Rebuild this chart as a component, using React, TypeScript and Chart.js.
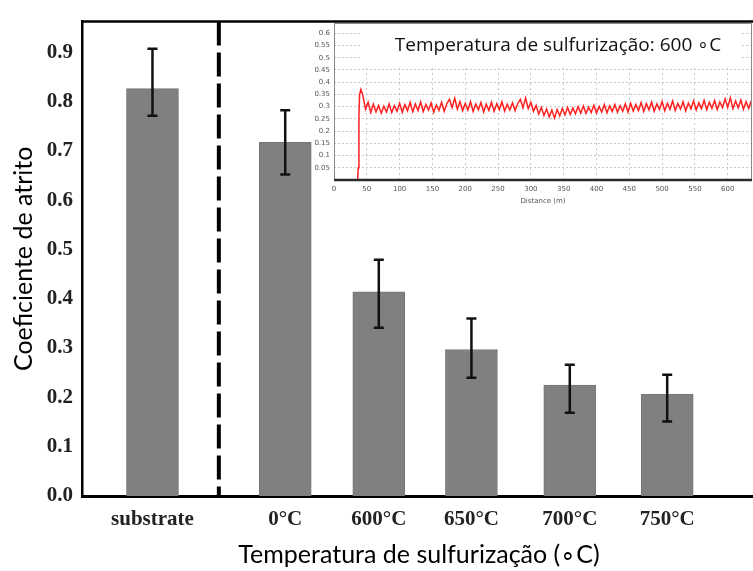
import { useEffect, useRef } from 'react';
import { Chart, registerables } from 'chart.js';

Chart.register(...registerables);

// ---------- main chart data ----------
const categories = ['substrate', '0°C', '600°C', '650°C', '700°C', '750°C'];
const categorySlots = [0, 1.39, 2.37, 3.34, 4.37, 5.39];
const frictionMean = [0.826, 0.717, 0.414, 0.297, 0.225, 0.206];
const errorUpper = [0.907, 0.782, 0.479, 0.36, 0.266, 0.246];
const errorLower = [0.771, 0.652, 0.341, 0.24, 0.169, 0.151];
const yTicks = [0, 0.1, 0.2, 0.3, 0.4, 0.5, 0.6, 0.7, 0.8, 0.9];
const yTitle = 'Coeficiente de atrito';
const xTitle = 'Temperatura de sulfurização (∘C)';

// ---------- inset data ----------
const insetTitle = 'Temperatura de sulfurização: 600 ∘C';
const insetXTitle = 'Distance (m)';
const insetRampDistance = [0, 36, 37, 38, 39, 41];
const insetRampFriction = [0, 0, 0.05, 0.26, 0.35, 0.37];
const insetSteadyStart = 44;
const insetSteadyStep = 4;
const insetSteadyFriction = [
  0.345, 0.29, 0.318, 0.276, 0.31, 0.279, 0.305, 0.273, 0.302, 0.278,
  0.311, 0.276, 0.304, 0.281, 0.314, 0.277, 0.308, 0.283, 0.317, 0.279,
  0.311, 0.284, 0.319, 0.28, 0.309, 0.286, 0.315, 0.277, 0.307, 0.284,
  0.318, 0.281, 0.313, 0.33, 0.296, 0.334, 0.29, 0.321, 0.283, 0.313,
  0.286, 0.32, 0.28, 0.311, 0.287, 0.317, 0.278, 0.31, 0.285, 0.318,
  0.281, 0.312, 0.288, 0.32, 0.282, 0.31, 0.286, 0.316, 0.283, 0.313,
  0.33, 0.295, 0.335, 0.292, 0.318, 0.281, 0.305, 0.27, 0.297, 0.264,
  0.291, 0.258, 0.286, 0.253, 0.288, 0.262, 0.293, 0.266, 0.297, 0.268,
  0.295, 0.271, 0.3, 0.273, 0.303, 0.272, 0.298, 0.276, 0.306, 0.274,
  0.301, 0.278, 0.308, 0.275, 0.303, 0.28, 0.309, 0.277, 0.304, 0.281,
  0.311, 0.278, 0.314, 0.282, 0.309, 0.284, 0.317, 0.28, 0.312, 0.287,
  0.319, 0.281, 0.311, 0.288, 0.321, 0.283, 0.314, 0.289, 0.323, 0.284,
  0.313, 0.29, 0.32, 0.282, 0.315, 0.291, 0.324, 0.286, 0.316, 0.292,
  0.326, 0.287, 0.318, 0.293, 0.325, 0.288, 0.319, 0.296, 0.332, 0.297,
  0.336, 0.292, 0.323, 0.295, 0.327, 0.289, 0.32, 0.293, 0.324,
];

const mainPlugin = {
  id: 'mainDecor',
  afterDatasetsDraw(chart: any) {
    const { ctx, scales } = chart;
    const xs = scales.x;
    const ys = scales.y;
    ctx.save();
    ctx.strokeStyle = '#111';
    ctx.lineWidth = 2.5;
    categorySlots.forEach((slot, i) => {
      const x = xs.getPixelForValue(slot);
      const yTop = ys.getPixelForValue(errorUpper[i]);
      const yBot = ys.getPixelForValue(errorLower[i]);
      ctx.beginPath();
      ctx.moveTo(x, yTop);
      ctx.lineTo(x, yBot);
      ctx.moveTo(x - 5, yTop);
      ctx.lineTo(x + 5, yTop);
      ctx.moveTo(x - 5, yBot);
      ctx.lineTo(x + 5, yBot);
      ctx.stroke();
    });
    ctx.restore();
  },
  afterDraw(chart: any) {
    const { ctx, chartArea, scales } = chart;
    ctx.save();
    ctx.strokeStyle = '#000';
    ctx.lineWidth = 2.5;
    ctx.beginPath();
    ctx.moveTo(chartArea.left - 1, chartArea.top);
    ctx.lineTo(chart.width, chartArea.top);
    ctx.stroke();
    const sx = scales.x.getPixelForValue((categorySlots[0] + categorySlots[1]) / 2);
    ctx.lineWidth = 4;
    ctx.setLineDash([24, 7]);
    ctx.beginPath();
    ctx.moveTo(sx, chartArea.top);
    ctx.lineTo(sx, chartArea.bottom);
    ctx.stroke();
    ctx.restore();
  },
};

const insetPlugin = {
  id: 'insetDecor',
  beforeDatasetsDraw(chart: any) {
    const { ctx, chartArea, scales } = chart;
    ctx.save();
    const boxTop = chartArea.top + 1;
    const boxBottom = scales.y.getPixelForValue(0.47);
    const boxLeft = chartArea.left + 28;
    const boxRight = chartArea.right - 10;
    ctx.fillStyle = '#fff';
    ctx.fillRect(boxLeft, boxTop, boxRight - boxLeft, boxBottom - boxTop);
    ctx.fillStyle = '#111';
    ctx.font = '19px "Open Sans"';
    ctx.textAlign = 'center';
    ctx.textBaseline = 'middle';
    ctx.fillText(insetTitle, (boxLeft + boxRight) / 2 + 6, (boxTop + boxBottom) / 2 + 1);
    ctx.restore();
  },
  afterDraw(chart: any) {
    const { ctx, chartArea } = chart;
    ctx.save();
    ctx.strokeStyle = '#8a8a8a';
    ctx.lineWidth = 1;
    ctx.beginPath();
    ctx.moveTo(chartArea.left + 0.5, chartArea.bottom);
    ctx.lineTo(chartArea.left + 0.5, chartArea.top + 0.5);
    ctx.lineTo(chartArea.right - 0.5, chartArea.top + 0.5);
    ctx.lineTo(chartArea.right - 0.5, chartArea.bottom);
    ctx.stroke();
    ctx.strokeStyle = '#2a2a2a';
    ctx.lineWidth = 2.5;
    ctx.beginPath();
    ctx.moveTo(chartArea.left, chartArea.bottom);
    ctx.lineTo(chartArea.right, chartArea.bottom);
    ctx.stroke();
    ctx.restore();
  },
};

export default function App() {
  const mainRef = useRef<HTMLCanvasElement>(null);
  const insetRef = useRef<HTMLCanvasElement>(null);

  useEffect(() => {
    const mainData = categorySlots.map((slot, i) => ({ x: slot, y: frictionMean[i] }));
    const main = new Chart(mainRef.current as HTMLCanvasElement, {
      type: 'bar',
      data: {
        datasets: [
          {
            data: mainData as any,
            backgroundColor: '#808080',
            borderColor: '#767676',
            borderWidth: 1,
            barThickness: 52,
          },
        ],
      },
      options: {
        responsive: false,
        animation: false,
        layout: { padding: { top: 16, left: 0, right: 4, bottom: 0 } },
        plugins: { legend: { display: false }, tooltip: { enabled: false } },
        scales: {
          x: {
            type: 'linear',
            offset: false,
            min: -0.738,
            max: 6.32,
            grid: { display: false, drawTicks: false },
            border: { display: true, color: '#000', width: 3 },
            afterBuildTicks: (scale: any) => {
              scale.ticks = categorySlots.map((v) => ({ value: v }));
            },
            afterFit: (scale: any) => {
              scale.height = 75;
            },
            ticks: {
              autoSkip: false,
              maxRotation: 0,
              padding: 11,
              color: '#222',
              font: { family: '"Liberation Serif"', size: 21, weight: 'bold' },
              callback: (value: any) => categories[categorySlots.indexOf(value)] ?? '',
            },
            title: {
              display: true,
              text: xTitle,
              color: '#000',
              font: { family: 'Lato', size: 25 },
              padding: { top: 0, bottom: 1 },
            },
          },
          y: {
            type: 'linear',
            min: 0,
            max: 0.962,
            grid: { display: false, drawTicks: false },
            border: { display: true, color: '#000', width: 2.5 },
            afterBuildTicks: (scale: any) => {
              scale.ticks = yTicks.map((v) => ({ value: v }));
            },
            afterFit: (scale: any) => {
              scale.width = 82;
            },
            ticks: {
              padding: 9,
              color: '#222',
              font: { family: '"Liberation Serif"', size: 21, weight: 'bold' },
              callback: (value: any) => Number(value).toFixed(1),
            },
            title: {
              display: true,
              text: yTitle,
              color: '#000',
              font: { family: 'Lato', size: 25 },
              padding: { top: 9, bottom: 0 },
            },
          },
        },
      },
      plugins: [mainPlugin],
    });

    const insetPoints = [
      ...insetRampDistance.map((d, i) => ({ x: d, y: insetRampFriction[i] })),
      ...insetSteadyFriction.map((f, i) => ({ x: insetSteadyStart + i * insetSteadyStep, y: f })),
    ];
    const inset = new Chart(insetRef.current as HTMLCanvasElement, {
      type: 'line',
      data: {
        datasets: [
          {
            data: insetPoints as any,
            borderColor: '#ff2020',
            borderWidth: 1.5,
            pointRadius: 0,
            tension: 0,
            fill: false,
          },
        ],
      },
      options: {
        responsive: false,
        animation: false,
        layout: { padding: { top: 13, left: 0, right: 1, bottom: 0 } },
        plugins: { legend: { display: false }, tooltip: { enabled: false } },
        scales: {
          x: {
            type: 'linear',
            min: 0,
            max: 637,
            grid: { display: true, color: '#c8c8c8', lineWidth: 1, drawTicks: false },
            border: { display: false, dash: [2, 3] },
            afterFit: (scale: any) => {
              scale.height = 30;
            },
            ticks: {
              stepSize: 50,
              includeBounds: false,
              autoSkip: false,
              maxRotation: 0,
              padding: 5,
              color: '#555',
              font: { family: '"DejaVu Sans"', size: 7 },
              callback: (value: any) => String(value),
            },
            title: {
              display: true,
              text: insetXTitle,
              color: '#555',
              font: { family: '"DejaVu Sans"', size: 7 },
              padding: { top: 0, bottom: 5 },
            },
          },
          y: {
            type: 'linear',
            min: 0,
            max: 0.642,
            grid: { display: true, color: '#c8c8c8', lineWidth: 1, drawTicks: false },
            border: { display: false, dash: [2, 2] },
            afterFit: (scale: any) => {
              scale.width = 34;
            },
            ticks: {
              stepSize: 0.05,
              includeBounds: false,
              autoSkip: false,
              padding: 4,
              color: '#555',
              font: { family: '"DejaVu Sans"', size: 7 },
              callback: (value: any) => {
                const v = Number(Number(value).toFixed(2));
                return v === 0 ? '' : String(v);
              },
            },
          },
        },
      },
      plugins: [insetPlugin],
    });

    return () => {
      main.destroy();
      inset.destroy();
    };
  }, []);

  return (
    <div
      style={{
        position: 'fixed',
        left: 0,
        top: 0,
        width: 753,
        height: 571,
        overflow: 'hidden',
        background: '#fff',
      }}
    >
      <canvas
        ref={mainRef}
        width={760}
        height={571}
        style={{ position: 'absolute', left: 0, top: 0, width: 760, height: 571 }}
      />
      <canvas
        ref={insetRef}
        width={453}
        height={200}
        style={{ position: 'absolute', left: 300, top: 10, width: 453, height: 200 }}
      />
    </div>
  );
}
